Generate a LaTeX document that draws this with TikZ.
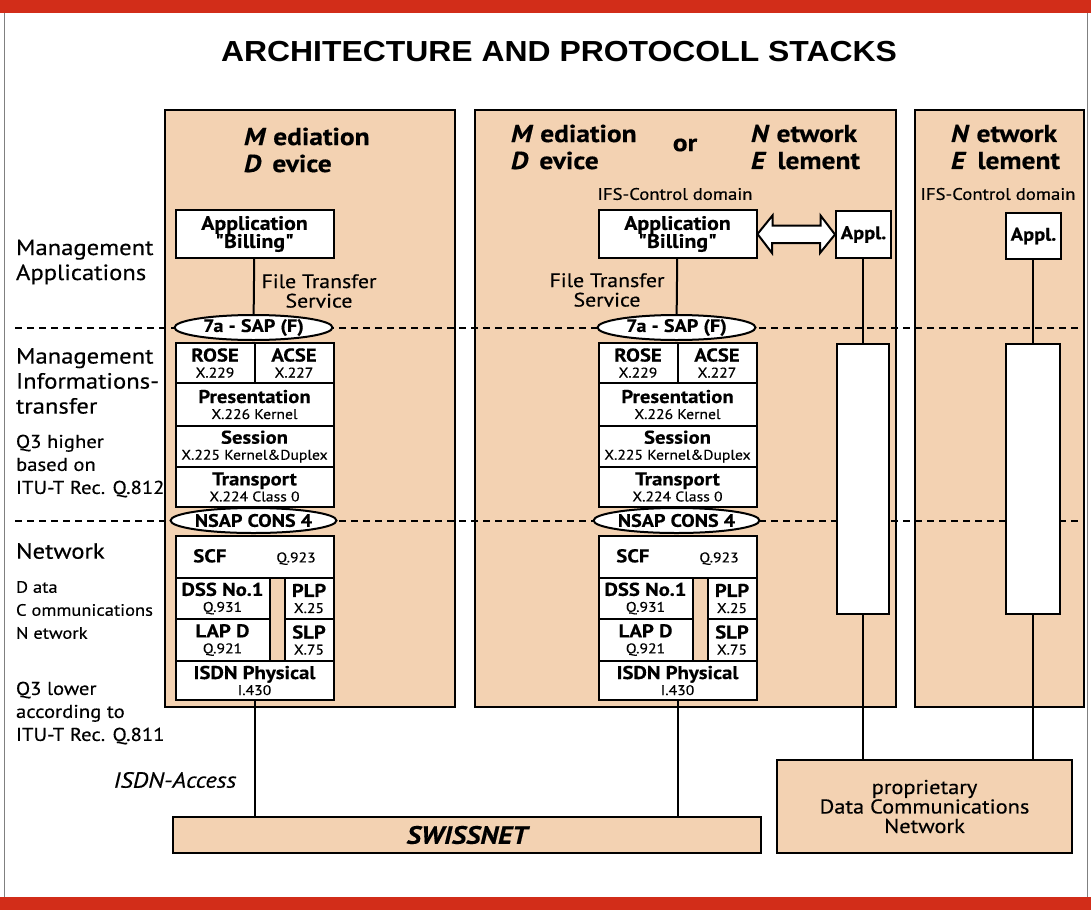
\documentclass[tikz,border=0pt]{standalone}
\usepackage{fontspec}
\setmainfont{PT Sans}[FakeStretch=1.12, FakeBold=0.4]
\newfontfamily\qfont{PT Sans}[FakeStretch=1.12, FakeBold=0.4]
\newfontfamily\headfont{Liberation Sans}[FakeStretch=1.1]
\usetikzlibrary{shapes.geometric}
\definecolor{sand}{RGB}{243,210,178}
\definecolor{band}{RGB}{210,45,25}
\newcommand{\layertext}[2]{{\bfseries\fontsize{18.5}{18}\selectfont #1}\\{\fontsize{14}{14}\selectfont #2}}

\begin{document}
\begin{tikzpicture}[x=1pt, y=-1pt, line width=2pt,
  col/.style={draw, fill=sand},
  layer/.style={draw, fill=white, anchor=north west, inner sep=0pt, align=center, font=\fontsize{14}{16}\selectfont},
  sap/.style={draw, ellipse, fill=white, inner sep=0pt, minimum width=158pt, minimum height=25pt, font=\bfseries\fontsize{18}{18}\selectfont},
  lbl/.style={anchor=west, align=left, inner sep=0pt, font=\fontsize{18.5}{23}\selectfont},
  head/.style={anchor=west, align=left, inner sep=0pt, font=\fontsize{22}{25}\selectfont},
  ttl/.style={anchor=west, align=left, inner sep=0pt, font=\bfseries\fontsize{24.5}{27}\selectfont}]

\useasboundingbox (0,0) rectangle (1091,910);
\fill[band] (0,0) rectangle (1091,13);
\fill[band] (0,897) rectangle (1091,910);
\draw[gray, line width=1pt] (4,13) -- (4,897) (1087,13) -- (1087,897);

\node[font=\headfont\bfseries\fontsize{29}{29}\selectfont] (title) at (559,52) {ARCHITECTURE AND PROTOCOLL STACKS};

% columns
\draw[col] (165,110) rectangle (455,707);
\draw[col] (475,110) rectangle (896,707);
\draw[col] (915,110) rectangle (1084,707);
\draw[line width=1.6pt, dash pattern=on 7pt off 5pt] (15,328) -- (1083,328);
\draw[line width=1.6pt, dash pattern=on 7pt off 5pt] (15,521) -- (1083,521);

% left labels
\node[head] (mapps) at (15,262) {Management\\Applications};
\node[head] (minfo) at (15,381) {Management\\Informations-\\transfer};
\node[lbl] (q3h) at (15,466) {Q3 higher\\based on\\ITU-T Rec. Q.812};
\node[head] (net) at (15,551) {Network};
\node[lbl, font=\fontsize{16.5}{23}\selectfont] (dcn) at (15,610) {D ata\\C ommunications\\N etwork};
\node[lbl] (q3l) at (15,713) {Q3 lower\\according to\\ITU-T Rec. Q.811};

% column titles
\node[ttl] (ldev) at (243,150) {\textit{M} ediation\\\textit{D}\, evice};
\node[ttl] (mdev) at (510,147) {\textit{M} ediation\\\textit{D}\, evice};
\node[font=\bfseries\fontsize{24.5}{25}\selectfont] (or) at (685,145) {or};
\node[ttl] (mne) at (750,147) {\textit{N} etwork\\\textit{E}\, lement};
\node[ttl] (rne) at (950,147) {\textit{N} etwork\\\textit{E}\, lement};
\node[font=\fontsize{16.7}{17}\selectfont] (mifs) at (675,194) {IFS-Control domain};
\node[font=\fontsize{16.7}{17}\selectfont] (rifs) at (998,194) {IFS-Control domain};

% protocol stacks
\foreach \s/\c in {l/253.5,m/676.5}{
  \node[layer, minimum width=158pt, minimum height=48pt, font=\bfseries\fontsize{19.5}{18}\selectfont] (app\s) at (\c-79,209) {Application\\{\qfont\bfseries"}Billing{\qfont\bfseries"}};
  \node[sap] (sap\s) at (\c,327.5) {7a - SAP (F)};
  \draw (app\s) -- (sap\s);
  \node[layer, minimum width=79pt, minimum height=40pt] (rose\s) at (\c-79,342) {\layertext{ROSE}{X.229}};
  \node[layer, minimum width=79pt, minimum height=40pt] (acse\s) at (\c,342) {\layertext{ACSE}{X.227}};
  \node[layer, minimum width=158pt, minimum height=43pt] (pres\s) at (\c-79,382) {\layertext{Presentation}{X.226 Kernel}};
  \node[layer, minimum width=158pt, minimum height=41pt] (sess\s) at (\c-79,425) {\layertext{Session}{X.225 Kernel\&Duplex}};
  \node[layer, minimum width=158pt, minimum height=40pt] (trans\s) at (\c-79,466) {\layertext{Transport}{X.224 Class 0}};
  \node[sap] (nsap\s) at (\c,520.5) {NSAP CONS 4};
  \node[layer, minimum width=158pt, minimum height=42pt] (scf\s) at (\c-79,535) {{\bfseries\fontsize{18.5}{18}\selectfont SCF}\hspace{50pt}Q.923};
  \node[layer, minimum width=94pt, minimum height=41pt] (dss\s) at (\c-79,577) {\layertext{DSS No.1}{Q.931}};
  \node[layer, minimum width=94pt, minimum height=42pt] (lapd\s) at (\c-79,618) {\layertext{LAP D}{Q.921}};
  \node[layer, fill=sand, minimum width=15pt, minimum height=83pt] (gap\s) at (\c+15,577) {};
  \node[layer, minimum width=49pt, minimum height=41pt] (plp\s) at (\c+30,577) {\layertext{PLP}{X.25}};
  \node[layer, minimum width=49pt, minimum height=42pt] (slp\s) at (\c+30,618) {\layertext{SLP}{X.75}};
  \node[layer, minimum width=158pt, minimum height=39pt] (isdn\s) at (\c-79,660) {\layertext{ISDN Physical}{I.430}};
}
\node[align=center, font=\fontsize{19.5}{19.5}\selectfont] (ftsl) at (319,291) {File Transfer\\Service};
\node[align=center, font=\fontsize{19.5}{19.5}\selectfont] (ftsm) at (607,290) {File Transfer\\Service};

% network element side
\node[layer, minimum width=55pt, minimum height=47pt, font=\bfseries\fontsize{18.3}{18}\selectfont] (applm) at (835,210) {Appl.};
\node[layer, minimum width=52pt, minimum height=270pt] (tallm) at (836,343) {};
\node[layer, minimum width=55pt, minimum height=46pt, font=\bfseries\fontsize{18.3}{18}\selectfont] (applr) at (1005,212) {Appl.};
\node[layer, minimum width=54pt, minimum height=270pt] (tallr) at (1005,343) {};
\draw (tallm) -- (tallm |- applm.south);
\draw (tallr) -- (tallr |- applr.south);
\draw[fill=white] (appm.east) -- ++(15,-18.5) -- ++(0,10) -- ++(48,0) -- ++(0,-10) -- (applm.west)
  -- ++(-15,18.5) -- ++(0,-10) -- ++(-48,0) -- ++(0,10) -- cycle;

% networks
\node[col, anchor=north west, inner sep=0pt, minimum width=588pt, minimum height=36pt, font=\bfseries\itshape\fontsize{25}{25}\selectfont] (swiss) at (172,816) {SWISSNET};
\node[col, anchor=north west, inner sep=0pt, minimum width=295pt, minimum height=93pt, align=center, font=\fontsize{20}{19.5}\selectfont] (prop) at (776,759) {proprietary\\Data Communications\\Network};
\node[font=\itshape\fontsize{22}{22}\selectfont] (access) at (175,780) {ISDN-Access};
\draw (isdnl) -- (isdnl |- swiss.north);
\draw (isdnm) -- (isdnm |- swiss.north);
\draw (tallm) -- (tallm |- prop.north);
\draw (tallr) -- (tallr |- prop.north);
\end{tikzpicture}
\end{document}
